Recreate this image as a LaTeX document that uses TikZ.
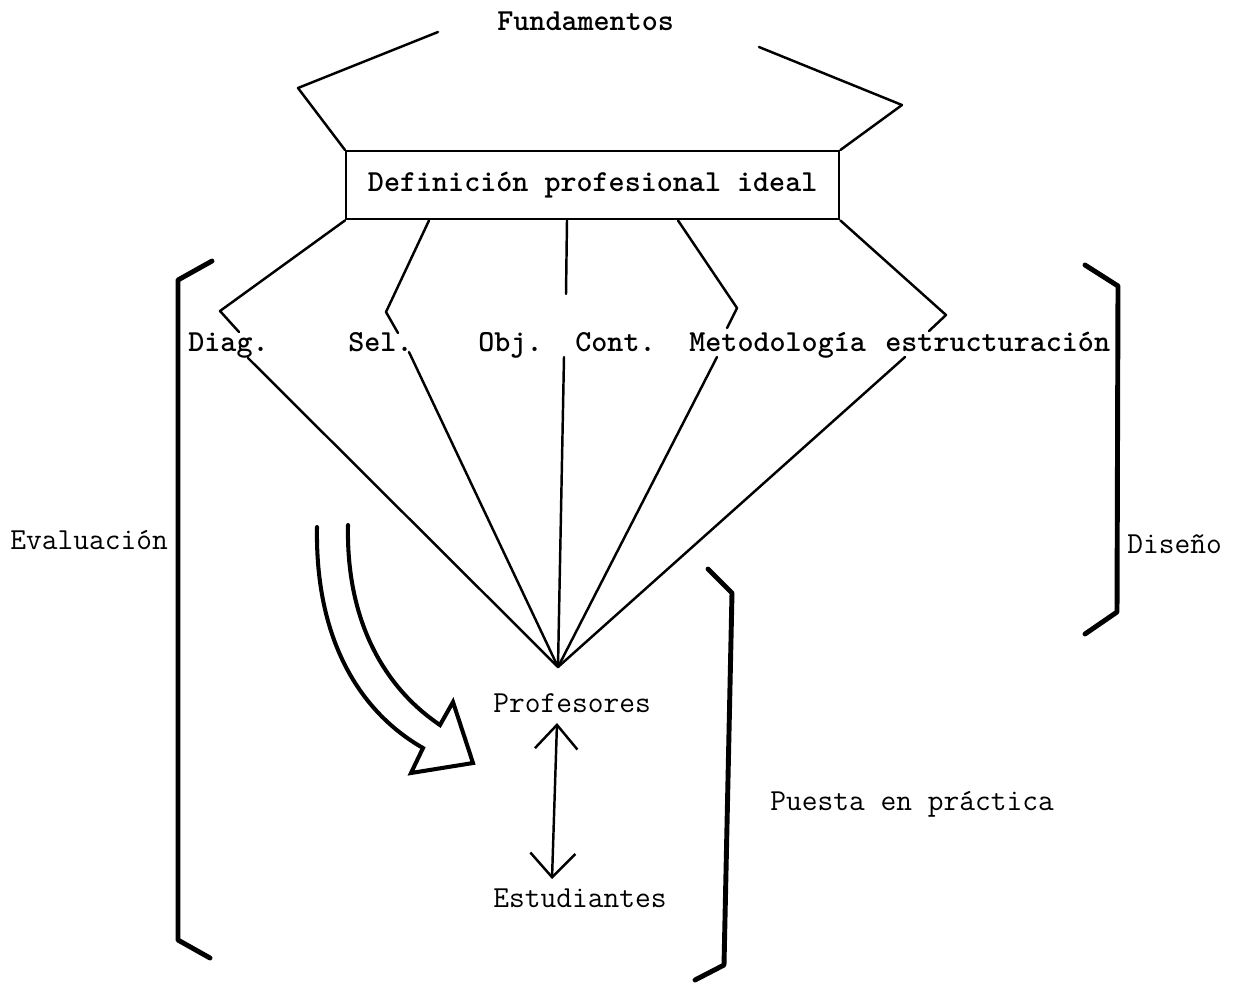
\documentclass[tikz,border=0pt]{standalone}
\usetikzlibrary{arrows.meta,calc}
\begin{document}
\begin{tikzpicture}[x=0.02cm,y=-0.02cm,
  lbl/.style={font=\fontsize{17.4}{20}\selectfont\ttfamily\bfseries, inner sep=0pt, anchor=base west},
  txt/.style={font=\fontsize{17.4}{20}\selectfont\ttfamily, inner sep=0pt, anchor=base west},
  thin/.style={line width=1.4pt, line cap=round, line join=round},
  brk/.style={line width=2.8pt, line cap=round, line join=round},
  barb/.style={line width=1.4pt, {Straight Barb[length=0.48cm,width=0.85cm]}-{Straight Barb[length=0.48cm,width=0.9cm]}},
]
\useasboundingbox (0,0) rectangle (1244,985);

% title and central box
\node[lbl] (fund) at (497,30) {Fundamentos};
\node[draw, line width=1.4pt, minimum width=9.86cm, minimum height=1.36cm, inner sep=0pt,
      anchor=north west, font=\fontsize{17.4}{20}\selectfont\ttfamily\bfseries]
      (def) at (345,150) {Definición profesional ideal};

% roof lines above the box
\coordinate (flt) at (438,32);
\coordinate (fl)  at (298,88);
\coordinate (frt) at (759,47);
\coordinate (fr)  at (902,105);
\draw[thin] (flt) -- (fl) -- (def.north west);
\draw[thin] (frt) -- (fr) -- (def.north east);

% component labels
\node[lbl] (diag) at (188,351) {Diag.};
\node[lbl] (sel)  at (348,351) {Sel.};
\node[lbl] (obj)  at (478,351) {Obj.};
\node[lbl] (cont) at (575,351) {Cont.};
\node[lbl] (met)  at (689,351) {Metodología};
\node[lbl] (est)  at (885,351) {estructuración};

% apex where all branches meet
\coordinate (apex) at (558,667);

% start points on the bottom edge of the box
\coordinate (b1) at (def.south west);
\coordinate (b2) at ($(def.south west)+(84,0)$);
\coordinate (b3) at ($(def.south west)+(222,0)$);
\coordinate (b4) at ($(def.south west)+(333,0)$);
\coordinate (b5) at (def.south east);

% bends and label gaps
\coordinate (v1) at (220,311); \coordinate (u1) at (239,332); \coordinate (l1) at (248,358);
\coordinate (v2) at (386,312); \coordinate (u2) at (398,333); \coordinate (l2) at (409,352);
\coordinate (u3) at (566,294); \coordinate (l3) at (564,357);
\coordinate (v4) at (737,308); \coordinate (u4) at (727,328); \coordinate (l4) at (717,357);
\coordinate (v5) at (946,315); \coordinate (u5) at (929,331); \coordinate (l5) at (905,357);

\draw[thin] (b1) -- (v1) -- (u1);  \draw[thin] (l1) -- (apex);
\draw[thin] (b2) -- (v2) -- (u2);  \draw[thin] (l2) -- (apex);
\draw[thin] (b3) -- (u3);          \draw[thin] (l3) -- (apex);
\draw[thin] (b4) -- (v4) -- (u4);  \draw[thin] (l4) -- (apex);
\draw[thin] (b5) -- (v5) -- (u5);  \draw[thin] (l5) -- (apex);

% teachers and students
\node[txt] (prof) at (493,712) {Profesores};
\node[txt] (estu) at (493,907) {Estudiantes};
\coordinate (pa) at (557,723);
\coordinate (pb) at (552,879);
\draw[barb] (pa) -- (pb);

% hollow curved arrow
\draw[line width=2.3pt, line join=miter, line cap=round]
  (317,527) .. controls (315,640) and (360,712) .. (423,748)
  -- (411,773) -- (473,763) -- (453,702) -- (440,725)
  .. controls (385,688) and (346,622) .. (348,525);

% brackets with their captions
\draw[brk] (212,261) -- (178,280) -- (178,940) -- (210,958);
\node[txt] (eval) at (10,549) {Evaluación};

\draw[brk] (1085,265) -- (1118,286) -- (1117,612) -- (1085,634);
\node[txt] (dis) at (1127,553) {Diseño};

\draw[brk] (708,569) -- (732,593) -- (724,965) -- (695,980);
\node[txt] (pue) at (770,810) {Puesta en práctica};
\end{tikzpicture}
\end{document}
